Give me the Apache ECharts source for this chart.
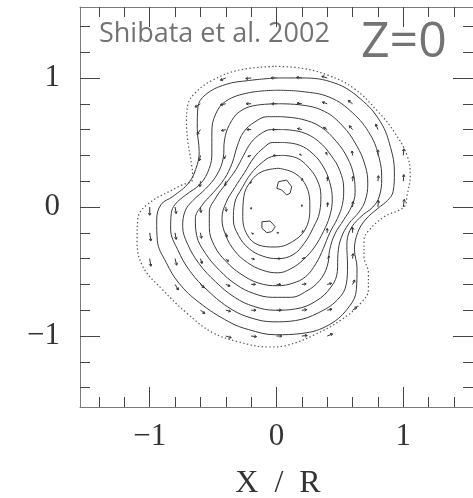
<!DOCTYPE html>
<html><head><meta charset="utf-8">
<script src="https://cdn.jsdelivr.net/npm/echarts@6/dist/echarts.min.js"></script>
<style>html,body{margin:0;padding:0;background:#fff}#c{width:473px;height:498px}</style>
</head><body><div id="c"></div>
<script>
// ---- data (X/R, Y/R) ----
const majorTicks = [-1, 0, 1];
const minorTicks = [-1.4,-1.2,-0.8,-0.6,-0.4,-0.2,0.2,0.4,0.6,0.8,1.2,1.4];
const titleText = 'Shibata et al. 2002';
const zText = 'Z=0';
const xName = 'X  /  R';

// outermost (dotted) contour
const c0 = [[-0.01,1.09],[0.20,1.075],[0.41,1.02],[0.61,0.92],[0.80,0.74],[0.93,0.58],[1.03,0.40],[1.055,0.25],[1.03,0.09],[1.005,0.0],[0.85,-0.075],[0.73,-0.18],[0.69,-0.26],[0.69,-0.385],[0.725,-0.51],[0.725,-0.64],[0.66,-0.75],[0.51,-0.875],[0.30,-0.99],[0.09,-1.07],[-0.06,-1.085],[-0.30,-1.045],[-0.51,-0.97],[-0.71,-0.82],[-0.90,-0.64],[-1.055,-0.46],[-1.10,-0.26],[-1.095,-0.10],[-1.025,0.015],[-0.77,0.16],[-0.66,0.22],[-0.67,0.33],[-0.70,0.51],[-0.71,0.66],[-0.70,0.79],[-0.635,0.89],[-0.51,0.98],[-0.30,1.06]];
const c1 = [[-0.01,1.00],[0.20,1.00],[0.46,0.96],[0.66,0.84],[0.82,0.66],[0.90,0.46],[0.93,0.27],[0.92,0.12],[0.875,0.05],[0.80,-0.01],[0.70,-0.10],[0.64,-0.20],[0.615,-0.33],[0.635,-0.47],[0.63,-0.64],[0.575,-0.77],[0.42,-0.91],[0.20,-0.98],[-0.01,-0.99],[-0.22,-0.95],[-0.375,-0.89],[-0.61,-0.74],[-0.77,-0.59],[-0.87,-0.43],[-0.94,-0.26],[-0.945,-0.10],[-0.91,0.02],[-0.82,0.08],[-0.69,0.19],[-0.625,0.33],[-0.61,0.43],[-0.625,0.61],[-0.62,0.77],[-0.56,0.87],[-0.40,0.95],[-0.22,0.98]];
const c2 = [[0.0,0.905],[0.2,0.895],[0.42,0.85],[0.6,0.73],[0.74,0.56],[0.81,0.38],[0.83,0.22],[0.81,0.08],[0.76,0.0],[0.66,-0.08],[0.58,-0.18],[0.555,-0.30],[0.56,-0.45],[0.55,-0.60],[0.48,-0.72],[0.33,-0.82],[0.15,-0.88],[-0.02,-0.89],[-0.2,-0.86],[-0.36,-0.79],[-0.54,-0.65],[-0.68,-0.50],[-0.78,-0.33],[-0.835,-0.17],[-0.83,-0.05],[-0.80,0.02],[-0.72,0.09],[-0.60,0.18],[-0.53,0.30],[-0.51,0.42],[-0.51,0.58],[-0.48,0.72],[-0.40,0.82],[-0.22,0.885]];
const c3 = [[0.02,0.80],[0.2,0.79],[0.38,0.74],[0.52,0.63],[0.63,0.48],[0.70,0.32],[0.72,0.18],[0.70,0.05],[0.65,-0.04],[0.57,-0.13],[0.51,-0.24],[0.485,-0.36],[0.48,-0.50],[0.43,-0.62],[0.31,-0.73],[0.15,-0.79],[-0.01,-0.80],[-0.18,-0.77],[-0.33,-0.70],[-0.48,-0.58],[-0.61,-0.44],[-0.70,-0.29],[-0.74,-0.15],[-0.72,-0.03],[-0.66,0.05],[-0.56,0.14],[-0.47,0.25],[-0.42,0.38],[-0.41,0.52],[-0.37,0.64],[-0.29,0.74],[-0.15,0.79]];
const c4 = [[0.03,0.70],[0.2,0.68],[0.35,0.62],[0.47,0.51],[0.56,0.38],[0.61,0.24],[0.62,0.11],[0.59,0.0],[0.53,-0.10],[0.46,-0.21],[0.42,-0.33],[0.40,-0.46],[0.34,-0.57],[0.24,-0.65],[0.11,-0.70],[-0.03,-0.70],[-0.18,-0.67],[-0.32,-0.60],[-0.45,-0.49],[-0.56,-0.36],[-0.63,-0.22],[-0.64,-0.09],[-0.59,0.01],[-0.50,0.11],[-0.41,0.22],[-0.35,0.34],[-0.31,0.47],[-0.26,0.58],[-0.17,0.66],[-0.07,0.70]];
const c5 = [[0.05,0.60],[0.2,0.58],[0.33,0.51],[0.43,0.40],[0.50,0.28],[0.53,0.14],[0.52,0.02],[0.48,-0.09],[0.42,-0.20],[0.37,-0.32],[0.31,-0.44],[0.23,-0.54],[0.13,-0.59],[0.01,-0.61],[-0.14,-0.59],[-0.28,-0.52],[-0.40,-0.42],[-0.49,-0.30],[-0.53,-0.16],[-0.53,-0.04],[-0.48,0.07],[-0.40,0.18],[-0.32,0.29],[-0.26,0.40],[-0.20,0.50],[-0.12,0.57],[-0.04,0.60]];
const c6 = [[0.05,0.50],[0.18,0.48],[0.29,0.41],[0.37,0.31],[0.42,0.19],[0.44,0.06],[0.42,-0.07],[0.37,-0.19],[0.30,-0.31],[0.21,-0.41],[0.11,-0.48],[0.01,-0.51],[-0.11,-0.49],[-0.23,-0.43],[-0.33,-0.34],[-0.40,-0.22],[-0.43,-0.09],[-0.40,0.03],[-0.33,0.15],[-0.25,0.27],[-0.18,0.38],[-0.10,0.46],[-0.03,0.50]];
const c7 = [[0.05,0.40],[0.16,0.38],[0.25,0.31],[0.32,0.21],[0.35,0.09],[0.34,-0.04],[0.29,-0.16],[0.22,-0.28],[0.13,-0.37],[0.01,-0.40],[-0.11,-0.38],[-0.22,-0.32],[-0.30,-0.22],[-0.34,-0.10],[-0.33,0.03],[-0.27,0.15],[-0.20,0.26],[-0.12,0.34],[-0.04,0.39]];
const c8 = [[0.016,0.30],[0.146,0.26],[0.237,0.157],[0.263,0.0],[0.237,-0.153],[0.146,-0.256],[-0.01,-0.31],[-0.14,-0.295],[-0.23,-0.217],[-0.266,-0.075],[-0.258,0.08],[-0.205,0.196],[-0.115,0.274]];
const islandA = [[0.016,0.196],[0.08,0.209],[0.12,0.157],[0.107,0.106],[0.08,0.093],[0.041,0.132],[0.002,0.145]];
const islandB = [[-0.115,-0.114],[-0.05,-0.109],[-0.01,-0.153],[-0.037,-0.191],[-0.076,-0.199],[-0.115,-0.165]];

// velocity arrows: [x, y, u, v]
const arrows = [
 [-0.4,1.0,-0.05,-0.02],[-0.2,1.0,-0.05,-0.005],[0,1.0,-0.05,0],[0.2,1.0,-0.05,0.005],[0.4,1.0,-0.05,0.015],
 [-0.6,0.8,-0.05,-0.03],[-0.4,0.8,-0.05,-0.01],[-0.2,0.8,-0.045,0],[0,0.8,-0.045,0],[0.2,0.8,-0.045,0.005],[0.4,0.8,-0.045,0.015],[0.6,0.8,-0.04,0.03],
 [-0.6,0.6,-0.03,-0.045],[-0.4,0.6,-0.04,-0.01],[-0.2,0.6,-0.04,0],[0,0.6,-0.04,0],[0.2,0.6,-0.04,0.01],[0.4,0.6,-0.035,0.02],[0.6,0.6,-0.03,0.035],[0.8,0.6,-0.02,0.05],
 [-0.6,0.4,-0.01,-0.05],[-0.4,0.4,-0.015,-0.03],[-0.2,0.4,-0.03,-0.01],[0,0.4,-0.03,0],[0.2,0.4,-0.02,0.01],[0.4,0.4,-0.01,0.03],[0.6,0.4,-0.005,0.04],[0.8,0.4,0,0.05],[1.0,0.4,0.005,0.06],
 [-0.6,0.2,-0.005,-0.05],[-0.4,0.2,-0.005,-0.04],[-0.2,0.2,-0.005,-0.02],[0.2,0.2,0.005,0.025],[0.4,0.2,0.005,0.04],[0.6,0.2,0.005,0.045],[0.8,0.2,0.005,0.05],[1.0,0.2,0.005,0.06],
 [-1.0,0.0,0.0,-0.075],[-0.8,0.0,0.01,-0.06],[-0.6,0.0,0.005,-0.05],[-0.4,0.0,0.005,-0.04],[-0.2,0.0,0.0,-0.02],[0.2,0.0,0,0.02],[0.4,0.0,0.005,0.04],[0.6,0.0,0.005,0.05],[0.8,0.0,0.005,0.06],[1.0,0.0,0.01,0.07],
 [-1.0,-0.2,0.01,-0.075],[-0.8,-0.2,0.01,-0.06],[-0.6,-0.2,0.01,-0.05],[-0.4,-0.2,0.01,-0.04],[-0.2,-0.2,0.02,-0.01],[0,-0.2,0.02,0],[0.2,-0.2,0.01,0.02],[0.4,-0.2,0.0,0.04],[0.6,-0.2,0.0,0.05],
 [-1.0,-0.4,0.01,-0.07],[-0.8,-0.4,0.015,-0.06],[-0.6,-0.4,0.015,-0.045],[-0.4,-0.4,0.025,-0.025],[-0.2,-0.4,0.03,-0.005],[0,-0.4,0.035,0],[0.2,-0.4,0.03,0.005],[0.4,-0.4,0.02,0.02],[0.6,-0.4,0.005,0.045],
 [-0.8,-0.6,0.03,-0.05],[-0.6,-0.6,0.035,-0.03],[-0.4,-0.6,0.04,-0.015],[-0.2,-0.6,0.04,0],[0,-0.6,0.04,0],[0.2,-0.6,0.04,0.005],[0.4,-0.6,0.04,0.01],[0.6,-0.6,0.02,0.04],
 [-0.6,-0.8,0.04,-0.03],[-0.4,-0.8,0.045,-0.01],[-0.2,-0.8,0.045,0],[0,-0.8,0.045,0],[0.2,-0.8,0.045,0.005],[0.4,-0.8,0.045,0.01],[0.6,-0.8,0.04,0.03],
 [-0.4,-1.0,0.05,-0.015],[-0.2,-1.0,0.05,-0.005],[0,-1.0,0.05,0],[0.2,-1.0,0.05,0.005],[0.4,-1.0,0.05,0.02]
];

// ---- chart ----
const chart = echarts.init(document.getElementById('c'), null, {renderer:'canvas'});
const LIM = 1.55;
const frameColor = '#7a7a7a', tickColor = '#444', labelColor = '#333';
const serif = '"Liberation Serif","DejaVu Serif",serif';
const fmt = v => v < 0 ? '\u2212' + Math.abs(v) : String(v);

function xAx(pos, major, showLabel, showLine) {
  return {type:'value', position:pos, min:-LIM, max:LIM, gridIndex:0,
    axisLine:{show:showLine, onZero:false, lineStyle:{color:frameColor, width:1}},
    axisTick:{show:true, inside:true, length: major?20:10, customValues: major?majorTicks:minorTicks, lineStyle:{color:tickColor, width:1}},
    axisLabel:{show:showLabel, customValues: majorTicks, formatter:fmt, color:labelColor, fontFamily:serif, fontSize:31, margin:14},
    splitLine:{show:false}};
}
function yAx(pos, major, showLabel, showLine) {
  return {type:'value', position:pos, min:-LIM, max:LIM, gridIndex:0,
    axisLine:{show:showLine, onZero:false, lineStyle:{color:frameColor, width:1}},
    axisTick:{show:true, inside:true, length: major?20:10, customValues: major?majorTicks:minorTicks, lineStyle:{color:tickColor, width:1}},
    axisLabel:{show:showLabel, customValues: majorTicks, formatter:fmt, color:labelColor, fontFamily:serif, fontSize:31, margin:20},
    splitLine:{show:false}};
}

const close = a => a.concat([a[0]]);
const solidStyle = {color:'#3a3a3a', width:1};
const series = [];
series.push({type:'line', data: close(c0), smooth:0.4, showSymbol:false, silent:true,
  lineStyle:{color:'#555', width:1.2, type:[1.4,2.4]}});
[c1,c2,c3,c4,c5,c6,c7,c8].forEach(c => series.push({type:'line', data: close(c), smooth:0.4, showSymbol:false, silent:true, lineStyle:solidStyle}));
[islandA, islandB].forEach(c => series.push({type:'line', data: close(c), smooth:false, showSymbol:false, silent:true, lineStyle:solidStyle}));
const arrowScale = 0.85;
series.push({type:'custom', silent:true, data: arrows,
  renderItem: function(params, api) {
    const x = api.value(0), y = api.value(1), u = api.value(2), v = api.value(3);
    const p = api.coord([x, y]);
    const q0 = api.coord([x + u, y + v]);
    const q = [p[0] + (q0[0]-p[0])*arrowScale, p[1] + (q0[1]-p[1])*arrowScale];
    const dx = q[0]-p[0], dy = q[1]-p[1];
    const L = Math.sqrt(dx*dx+dy*dy) || 1;
    const ux = dx/L, uy = dy/L;
    const h = Math.min(2.2, L*0.45);
    const h1 = [q[0] - ux*h - uy*h*0.6, q[1] - uy*h + ux*h*0.6];
    const h2 = [q[0] - ux*h + uy*h*0.6, q[1] - uy*h - ux*h*0.6];
    const st = {stroke:'#333', lineWidth:1, fill:null};
    return {type:'group', children:[
      {type:'line', shape:{x1:p[0],y1:p[1],x2:q[0],y2:q[1]}, style:st},
      {type:'polyline', shape:{points:[h1,q,h2]}, style:st}
    ]};
  }});

chart.setOption({
  animation:false,
  grid:{left:80, top:7, width:396, height:400, containLabel:false},
  xAxis:[xAx('bottom',true,true,true), xAx('bottom',false,false,false), xAx('top',true,false,true), xAx('top',false,false,false)],
  yAxis:[yAx('left',true,true,true), yAx('left',false,false,false), yAx('right',true,false,true), yAx('right',false,false,false)],
  series: series,
  graphic:[
    {type:'text', left:99, top:21, style:{text:titleText, fill:'#737373', font:'27px "Open Sans", sans-serif'}},
    {type:'text', left:361, top:18, style:{text:zText, fill:'#737373', font:'50px "Open Sans", sans-serif'}},
    {type:'text', x:278, y:484, style:{text:xName, fill:labelColor, font:'32px "Liberation Serif", serif', textAlign:'center', textVerticalAlign:'middle'}}
  ]
});
</script></body></html>
